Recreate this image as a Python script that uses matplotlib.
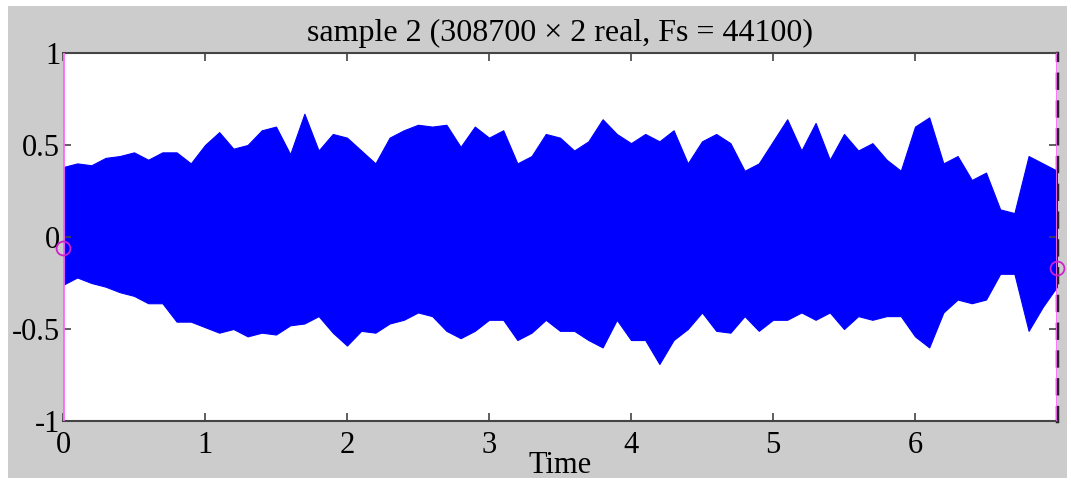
import numpy as np
import matplotlib
matplotlib.use('Agg')
import matplotlib.pyplot as plt
from matplotlib.patches import Rectangle

# envelope of the waveform, one value every 0.1 s
t = np.arange(71) / 10.0
upper = [0.38, 0.40, 0.39, 0.43, 0.44, 0.46, 0.42, 0.46, 0.46, 0.40,
         0.50, 0.57, 0.48, 0.50, 0.58, 0.60, 0.45, 0.67, 0.47, 0.56,
         0.54, 0.47, 0.40, 0.54, 0.58, 0.61, 0.60, 0.61, 0.49, 0.60,
         0.54, 0.58, 0.40, 0.44, 0.56, 0.54, 0.47, 0.52, 0.64, 0.56,
         0.51, 0.56, 0.52, 0.58, 0.40, 0.52, 0.56, 0.51, 0.36, 0.40,
         0.52, 0.64, 0.47, 0.62, 0.42, 0.56, 0.47, 0.51, 0.42, 0.36,
         0.60, 0.65, 0.40, 0.44, 0.31, 0.35, 0.15, 0.13, 0.44, 0.40, 0.36]
lower = [-0.26, -0.22, -0.25, -0.27, -0.30, -0.32, -0.36, -0.36, -0.46, -0.46,
         -0.49, -0.52, -0.50, -0.54, -0.52, -0.53, -0.48, -0.47, -0.43, -0.52,
         -0.59, -0.51, -0.52, -0.47, -0.45, -0.41, -0.43, -0.51, -0.55, -0.51,
         -0.45, -0.45, -0.56, -0.52, -0.45, -0.51, -0.51, -0.56, -0.60, -0.45,
         -0.56, -0.56, -0.69, -0.56, -0.50, -0.41, -0.51, -0.52, -0.43, -0.51,
         -0.45, -0.45, -0.41, -0.45, -0.41, -0.50, -0.43, -0.45, -0.43, -0.43,
         -0.54, -0.60, -0.41, -0.34, -0.36, -0.34, -0.20, -0.20, -0.51, -0.38, -0.27]

# selection markers at both ends
sel_t = [0.0, 7.0]
sel_y = [-0.06, -0.17]

xticks = [0, 1, 2, 3, 4, 5, 6]
yticks = [-1, -0.5, 0, 0.5, 1]
ylabels = ['-1', '-0.5', '0', '0.5', '1']

plt.rcParams['font.family'] = ['Liberation Serif', 'DejaVu Serif']

fig = plt.figure(figsize=(10.71, 4.84), dpi=100, facecolor='white')
fig.patches.append(Rectangle((8/1071, 6/484), 1059/1071, 472/484,
                             transform=fig.transFigure, facecolor='#cccccc',
                             edgecolor='none', zorder=-10))
ax = fig.add_axes([63/1071, 63/484, 994/1071, 368/484])
ax.set_facecolor('white')

ax.fill_between(t, lower, upper, color='#0000ff', linewidth=0.8, edgecolor='#0000ff')
ax.axvline(0.0, color='#ff66ff', lw=2, zorder=5)
ax.axvline(7.0, color='#ff66ff', lw=2, zorder=5)
ax.plot(sel_t, sel_y, 'o', mfc='none', mec='#d020d0', ms=10, mew=1.3,
        clip_on=False, zorder=6)

ax.set_xlim(0, 7.0)
ax.set_ylim(-1, 1)
ax.set_xticks(xticks)
ax.set_xticklabels([str(v) for v in xticks])
ax.set_yticks(yticks)
ax.set_yticklabels(ylabels)
ax.tick_params(direction='in', length=6, width=1.2, color='#444444',
               top=True, right=True, labelsize=22, pad=2)
ax.tick_params(axis='x', pad=7)

for s in ['top', 'bottom']:
    ax.spines[s].set_color('#444444')
    ax.spines[s].set_linewidth(1.5)
ax.spines['left'].set_visible(False)
ax.spines['right'].set_color('#222222')
ax.spines['right'].set_linestyle((0, (4, 4)))
ax.spines['right'].set_linewidth(2.5)

ax.set_title('sample 2 (308700 \u00d7 2 real, Fs = 44100)', fontsize=23, pad=9)
ax.set_xlabel('Time', fontsize=22, labelpad=-6)

fig.savefig('out.png', dpi=100, facecolor='white')
